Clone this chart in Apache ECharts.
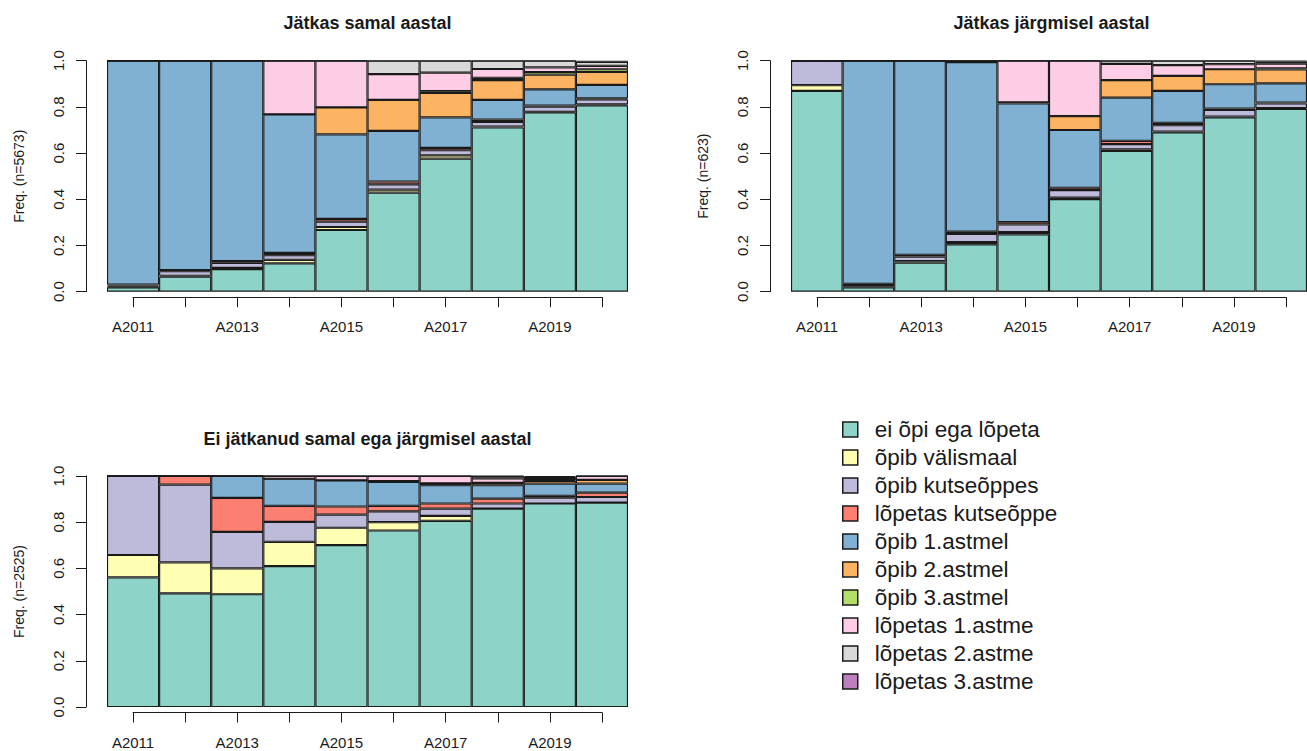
<!DOCTYPE html>
<html>
<head>
<meta charset="utf-8">
<script src="https://cdn.jsdelivr.net/npm/echarts@6/dist/echarts.min.js"></script>
<style>
  html, body { margin: 0; padding: 0; background: #ffffff; }
  #chart { width: 1307px; height: 751px; }
</style>
</head>
<body>
<div id="chart"></div>
<script>
// Years on the x axis
const years = ['A2011', 'A2012', 'A2013', 'A2014', 'A2015', 'A2016', 'A2017', 'A2018', 'A2019', 'A2020'];

// Status categories, bottom to top of each stacked bar
const statuses = [
  'ei õpi ega lõpeta', 'õpib välismaal', 'õpib kutseõppes', 'lõpetas kutseõppe',
  'õpib 1.astmel', 'õpib 2.astmel', 'õpib 3.astmel',
  'lõpetas 1.astme', 'lõpetas 2.astme', 'lõpetas 3.astme'
];

// Set3 palette
const statusColors = ['#8DD3C7', '#FFFFB3', '#BEBADA', '#FB8072', '#80B1D3',
                      '#FDB462', '#B3DE69', '#FCCDE5', '#D9D9D9', '#BC80BD'];

// Shares per status (rows, in the order of statuses) and year (columns)
const samalAastal = [
  [0.019, 0.065, 0.098, 0.123, 0.267, 0.429, 0.577, 0.711, 0.776, 0.807],
  [0.004, 0.004, 0.005, 0.015, 0.013, 0.013, 0.014, 0.004, 0.003, 0.004],
  [0.004, 0.020, 0.022, 0.020, 0.023, 0.023, 0.022, 0.020, 0.022, 0.022],
  [0.004, 0.005, 0.008, 0.010, 0.012, 0.012, 0.010, 0.010, 0.005, 0.004],
  [0.969, 0.906, 0.867, 0.600, 0.366, 0.219, 0.132, 0.085, 0.070, 0.058],
  [0, 0, 0, 0, 0.117, 0.134, 0.106, 0.086, 0.064, 0.056],
  [0, 0, 0, 0, 0, 0, 0.008, 0.010, 0.011, 0.012],
  [0, 0, 0, 0.232, 0.202, 0.112, 0.080, 0.038, 0.020, 0.015],
  [0, 0, 0, 0, 0, 0.058, 0.052, 0.036, 0.029, 0.017],
  [0, 0, 0, 0, 0, 0, 0, 0, 0, 0.005]
];

const jargmiselAastal = [
  [0.869, 0.019, 0.126, 0.205, 0.248, 0.401, 0.609, 0.690, 0.755, 0.791],
  [0.025, 0.005, 0.006, 0.010, 0.010, 0.006, 0.007, 0.003, 0.003, 0.004],
  [0.106, 0.005, 0.020, 0.035, 0.033, 0.033, 0.023, 0.028, 0.029, 0.020],
  [0, 0.005, 0.008, 0.010, 0.010, 0.010, 0.014, 0.010, 0.006, 0.004],
  [0, 0.966, 0.840, 0.734, 0.514, 0.250, 0.187, 0.138, 0.105, 0.083],
  [0, 0, 0, 0, 0.005, 0.060, 0.076, 0.065, 0.065, 0.060],
  [0, 0, 0, 0, 0, 0, 0, 0, 0, 0.005],
  [0, 0, 0, 0.006, 0.180, 0.240, 0.070, 0.047, 0.022, 0.020],
  [0, 0, 0, 0, 0, 0, 0.014, 0.019, 0.015, 0.010],
  [0, 0, 0, 0, 0, 0, 0, 0, 0, 0.003]
];

const eiJatkanud = [
  [0.561, 0.492, 0.488, 0.610, 0.701, 0.764, 0.806, 0.859, 0.881, 0.885],
  [0.097, 0.134, 0.112, 0.105, 0.075, 0.036, 0.021, 0, 0, 0],
  [0.342, 0.337, 0.158, 0.086, 0.057, 0.047, 0.032, 0.022, 0.025, 0.024],
  [0, 0.037, 0.147, 0.070, 0.035, 0.024, 0.022, 0.021, 0.008, 0.019],
  [0, 0, 0.095, 0.117, 0.113, 0.103, 0.079, 0.058, 0.053, 0.039],
  [0, 0, 0, 0, 0, 0.004, 0.008, 0.010, 0.012, 0.016],
  [0, 0, 0, 0, 0, 0, 0, 0, 0.004, 0],
  [0, 0, 0, 0.012, 0.019, 0.022, 0.032, 0.020, 0.008, 0.017],
  [0, 0, 0, 0, 0, 0, 0, 0.010, 0.005, 0],
  [0, 0, 0, 0, 0, 0, 0, 0, 0.004, 0]
];

const panelTitles = ['Jätkas samal aastal', 'Jätkas järgmisel aastal', 'Ei jätkanud samal ega järgmisel aastal'];
const panelCounts = [5673, 623, 2525];

const FONT = '"Liberation Sans", Arial, Helvetica, sans-serif';
const INK = '#1a1a1a';

// Layout of the three plot regions
const panels = [
  { data: samalAastal,     left: 107, top: 60.7 },
  { data: jargmiselAastal, left: 791, top: 60.7 },
  { data: eiJatkanud,      left: 107, top: 476.0 }
];
const PLOT_W = 521, PLOT_H = 231;

const grid = [], xAxis = [], yAxis = [], series = [], graphic = [];

panels.forEach(function (p, i) {
  const g = i * 2;
  // plot region holding the stacked bars
  grid.push({ left: p.left, top: p.top, width: PLOT_W, height: PLOT_H });
  // thin region carrying the year axis, drawn from the first to the last bar centre
  const step = PLOT_W / years.length;
  grid.push({ left: p.left + step / 2, top: p.top + PLOT_H + 4.5, width: PLOT_W - step, height: 1 });

  xAxis.push({
    type: 'category', gridIndex: g, data: years, show: false, boundaryGap: true
  });
  yAxis.push({
    type: 'value', gridIndex: g, min: 0, max: 1, interval: 0.2, offset: 21,
    name: 'Freq. (n=' + panelCounts[i] + ')',
    nameLocation: 'middle', nameGap: 60,
    nameTextStyle: { fontFamily: FONT, fontSize: 14, color: INK },
    axisLine: { show: true, lineStyle: { color: INK, width: 1 } },
    axisTick: { show: true, length: 10, lineStyle: { color: INK, width: 1 } },
    splitLine: { show: false },
    axisLabel: {
      rotate: 90, margin: 20, fontFamily: FONT, fontSize: 15, color: INK,
      formatter: function (v) { return v.toFixed(1); }
    }
  });

  xAxis.push({
    type: 'category', gridIndex: g + 1, data: years, boundaryGap: false, position: 'bottom',
    axisLine: { show: true, lineStyle: { color: INK, width: 1 } },
    axisTick: { show: true, length: 10, interval: 0, lineStyle: { color: INK, width: 1 } },
    axisLabel: { interval: 1, margin: 22, fontFamily: FONT, fontSize: 15, color: INK }
  });
  yAxis.push({ type: 'value', gridIndex: g + 1, show: false });

  statuses.forEach(function (name, k) {
    series.push({
      type: 'bar', name: name, stack: 'panel' + i,
      xAxisIndex: g, yAxisIndex: g,
      barWidth: '100%', barCategoryGap: 0,
      data: years.map(function (_, y) {
        let total = 0;
        for (let r = 0; r < statuses.length; r++) total += p.data[r][y];
        return p.data[k][y] / total;
      }),
      itemStyle: { color: statusColors[k], borderColor: INK, borderWidth: 1.1 },
      emphasis: { disabled: true },
      silent: true,
      animation: false
    });
  });

  graphic.push({
    type: 'text', x: p.left + PLOT_W / 2, y: p.top - 37.5,
    style: {
      text: panelTitles[i], fontFamily: FONT, fontSize: 18, fontWeight: 'bold',
      fill: INK, align: 'center', verticalAlign: 'middle'
    }
  });
});

const chart = echarts.init(document.getElementById('chart'), null, { renderer: 'svg' });
chart.setOption({
  backgroundColor: '#ffffff',
  animation: false,
  grid: grid,
  xAxis: xAxis,
  yAxis: yAxis,
  series: series,
  graphic: graphic,
  legend: {
    data: statuses,
    orient: 'vertical',
    left: 837, top: 413,
    icon: 'rect',
    itemWidth: 15, itemHeight: 15, itemGap: 5,
    selectedMode: false,
    itemStyle: { borderColor: INK, borderWidth: 1.5 },
    textStyle: { fontFamily: FONT, fontSize: 22.5, lineHeight: 22, color: INK, padding: [0, 0, 0, 12] }
  }
});
</script>
</body>
</html>
